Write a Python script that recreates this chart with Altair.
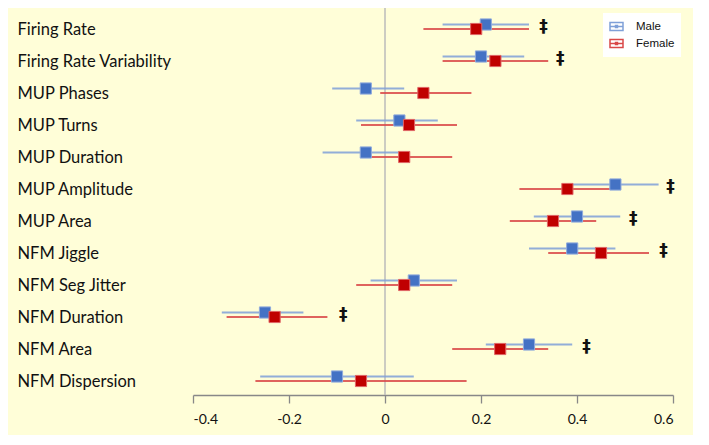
import altair as alt
import pandas as pd

categories = ["Firing Rate", "Firing Rate Variability", "MUP Phases", "MUP Turns",
              "MUP Duration", "MUP Amplitude", "MUP Area", "NFM Jiggle",
              "NFM Seg Jitter", "NFM Duration", "NFM Area", "NFM Dispersion"]

male_est = [0.21, 0.20, -0.04, 0.03, -0.04, 0.48, 0.40, 0.39, 0.06, -0.25, 0.30, -0.10]
male_lo = [0.12, 0.12, -0.11, -0.06, -0.13, 0.39, 0.31, 0.30, -0.03, -0.34, 0.21, -0.26]
male_hi = [0.30, 0.29, 0.04, 0.11, 0.03, 0.57, 0.49, 0.48, 0.15, -0.17, 0.39, 0.06]

female_est = [0.19, 0.23, 0.08, 0.05, 0.04, 0.38, 0.35, 0.45, 0.04, -0.23, 0.24, -0.05]
female_lo = [0.08, 0.12, -0.01, -0.05, -0.03, 0.28, 0.26, 0.34, -0.06, -0.33, 0.14, -0.27]
female_hi = [0.30, 0.34, 0.18, 0.15, 0.14, 0.47, 0.44, 0.55, 0.14, -0.12, 0.34, 0.17]

dagger_x = [0.33, 0.365, None, None, None, 0.595, 0.517, 0.58, None, -0.087, 0.42, None]

sexes = ["Male", "Female"]
x_ticks = [-0.4, -0.2, 0, 0.2, 0.4, 0.6]

rows = []
for i, c in enumerate(categories):
    rows.append({"cat": c, "sex": "Male", "est": male_est[i], "lo": male_lo[i], "hi": male_hi[i]})
    rows.append({"cat": c, "sex": "Female", "est": female_est[i], "lo": female_lo[i], "hi": female_hi[i]})
df = pd.DataFrame(rows)
dag = pd.DataFrame({"cat": categories, "x": dagger_x}).dropna()

xscale = alt.Scale(domain=[-0.4, 0.6], nice=False, zero=False)
yenc = alt.Y("cat:N", sort=categories, title=None,
             scale=alt.Scale(paddingInner=0, paddingOuter=0.0),
             axis=alt.Axis(labelAlign="left", labelPadding=176, ticks=False, domain=False,
                           labelFont="Lato", labelFontSize=16.5, labelColor="#111111",
                           labelOffset=3, labelLimit=300))
xaxis = alt.Axis(values=x_ticks, grid=False, title=None,
                 labelExpr="datum.value == 0 ? '0' : toString(datum.value)",
                 domainColor="#888888", tickColor="#888888", tickSize=8, labelPadding=9,
                 labelFont="Lato", labelFontSize=14, labelColor="#111111",
                 domainWidth=1.3, tickWidth=1.3)

base = alt.Chart(df)
rule_color = alt.Color("sex:N", scale=alt.Scale(domain=sexes, range=["#7FA0D8", "#D94848"]),
                       title=None,
                       legend=alt.Legend(orient="none", legendX=410, legendY=2,
                                         symbolType="M-1,-0.6H1V0.6H-1Z M-1.1,0H1.1 M-0.15,-0.15H0.15V0.15H-0.15Z",
                                         symbolSize=169, symbolStrokeWidth=1.5, symbolOpacity=1,
                                         labelFont="Arial", labelFontSize=11.5, labelColor="#111111",
                                         fillColor="white", padding=6, rowPadding=2,
                                         labelOffset=12))

zero = alt.Chart(pd.DataFrame({"z": [0]})).mark_rule(color="#BBBBBB", strokeWidth=1.5).encode(
    x=alt.X("z:Q", scale=xscale, axis=xaxis), y=alt.value(-8), y2=alt.value(384))

rule_m = base.transform_filter(alt.datum.sex == "Male").mark_rule(
    strokeWidth=2, yOffset=-2.5, opacity=0.85).encode(
    x=alt.X("lo:Q", scale=xscale, axis=xaxis), x2="hi:Q", y=yenc, color=rule_color)
rule_f = base.transform_filter(alt.datum.sex == "Female").mark_rule(
    strokeWidth=2, yOffset=2, opacity=0.85).encode(
    x=alt.X("lo:Q", scale=xscale, axis=xaxis), x2="hi:Q", y=yenc, color=rule_color)
sq_m = base.transform_filter(alt.datum.sex == "Male").mark_square(
    size=125, opacity=1, yOffset=-2.5, color="#4472C4", stroke="#8FAADC", strokeWidth=1).encode(
    x=alt.X("est:Q", scale=xscale, axis=xaxis), y=yenc)
sq_f = base.transform_filter(alt.datum.sex == "Female").mark_square(
    size=125, opacity=1, yOffset=2, color="#C00000", stroke="#E06666", strokeWidth=1).encode(
    x=alt.X("est:Q", scale=xscale, axis=xaxis), y=yenc)
dg = alt.Chart(dag).mark_text(text="‡", font="DejaVu Sans", fontSize=17, fontWeight="bold",
                              color="#111111").encode(
    x=alt.X("x:Q", scale=xscale, axis=xaxis), y=yenc)

chart = alt.layer(zero, rule_m, rule_f, sq_m, sq_f, dg).properties(
    width=480, height=384,
    autosize=alt.AutoSizeParams(type="none"),
    padding={"left": 185, "top": 3, "right": 20, "bottom": 40},
    background="#FFFED8"
).configure_view(stroke=None)

chart.save("out.html", embed_options={"renderer": "svg", "actions": False})
